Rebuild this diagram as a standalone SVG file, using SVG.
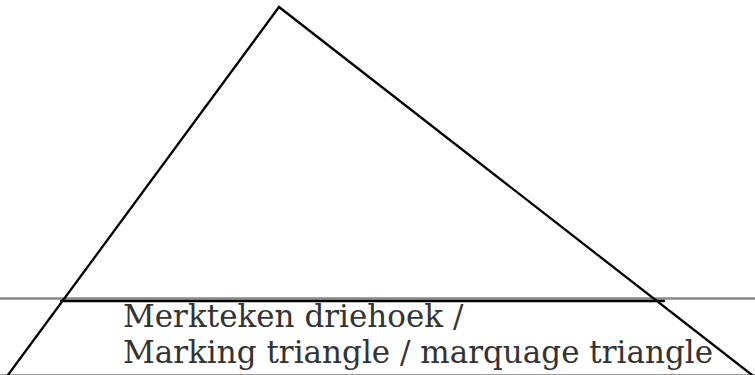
<svg xmlns="http://www.w3.org/2000/svg" width="755" height="375" viewBox="0 0 755 375">
<style>
.edge{stroke:#000;stroke-width:2.3;fill:none;stroke-linecap:round}
.lbl{font-family:"DejaVu Serif","Liberation Serif",serif;font-size:31px;fill:#333}
</style>
<rect width="755" height="375" fill="#fff"/>
<g id="connectors">
<line x1="0" y1="298.5" x2="755" y2="298.5" stroke="#888" stroke-width="2.5"/>
<line x1="61" y1="301" x2="664" y2="301" class="edge"/>
<line x1="0" y1="374.5" x2="755" y2="374.5" stroke="#999" stroke-width="1"/>
<polyline points="8,375 279,7 752,375" class="edge"/>
</g>
<g id="label">
<text class="lbl" x="123" y="327">Merkteken driehoek /</text>
<text class="lbl" x="123" y="363">Marking triangle / marquage triangle</text>
</g>
</svg>
